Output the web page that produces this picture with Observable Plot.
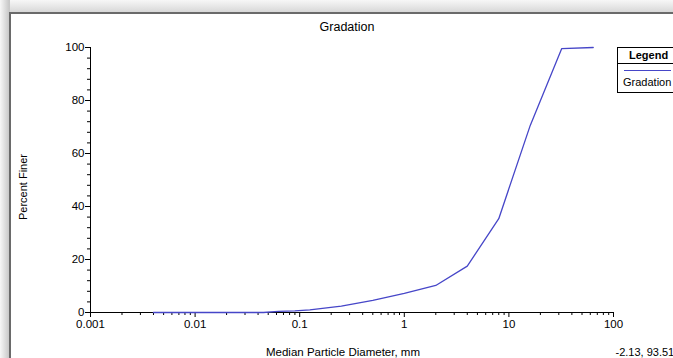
<!DOCTYPE html>
<html>
<head>
<meta charset="utf-8">
<script src="https://cdn.jsdelivr.net/npm/d3@7"></script>
<script src="https://cdn.jsdelivr.net/npm/@observablehq/plot@0.6"></script>
<style>
  html, body { margin: 0; padding: 0; background: #fff; overflow: hidden; }
  #wrap { position: relative; width: 673px; height: 358px; overflow: hidden; background: #fff; }
  #topshade { position: absolute; left: 0; top: 0; width: 700px; height: 12px;
    background: linear-gradient(to bottom, #f7f7f7 0px, #d8d8d8 12px); }
  #leftshade { position: absolute; left: 0; top: 0; width: 10px; height: 358px;
    background: linear-gradient(to right, #f7f7f7 0px, #c8c8c8 9px); }
  #panel { position: absolute; left: 9px; top: 12px; width: 700px; height: 400px;
    background: #fff; border-top: 2px solid #6a6a6a; border-left: 2px solid #6a6a6a; }
  #chart { position: absolute; left: 0; top: 0; }
  #legend { position: absolute; left: 617px; top: 47px; width: 70px; height: 44px;
    border: 1px solid #000; background: #fff; font-family: "Liberation Sans", Arial, sans-serif; font-size: 11px; }
  #legend .hd { height: 15px; border-bottom: 1px solid #000; font-weight: bold; line-height: 15px; padding-left: 11px; }
  #legend .sw { position: absolute; left: 6px; top: 22px; width: 47px; height: 0; border-top: 1.5px solid #4646c8; }
  #legend .lb { position: absolute; left: 5px; top: 28px; }
</style>
</head>
<body>
<div id="wrap">
  <div id="topshade"></div>
  <div id="leftshade"></div>
  <div id="panel"></div>
  <div id="chart"></div>
  <div id="legend"><div class="hd">Legend</div><div class="sw"></div><div class="lb">Gradation</div></div>
</div>
<script>
const titleText = "Gradation";
const xLabel = "Median Particle Diameter, mm";
const yLabel = "Percent Finer";
const cursorText = "-2.13, 93.51";
const diameters = [0.004, 0.045, 0.0625, 0.09, 0.125, 0.25, 0.5, 1, 2, 4, 8, 16, 32, 64];
const percentFiner = [0, 0, 0.4, 0.6, 1.0, 2.4, 4.6, 7.2, 10.2, 17.5, 35.4, 70.6, 99.6, 100];
const xTicks = [0.001, 0.01, 0.1, 1, 10, 100];
const xTickLabels = ["0.001", "0.01", "0.1", "1", "10", "100"];
const yTicks = [0, 20, 40, 60, 80, 100];
const yMinorStep = 4;

const data = diameters.map((d, i) => ({d, p: percentFiner[i]}));
const xMinor = [];
xTicks.slice(0, -1).forEach(t => { for (let k = 2; k <= 9; k++) xMinor.push(t * k); });
const yMinor = d3.range(0, 101, yMinorStep).filter(v => !yTicks.includes(v));

const narrow = "'Liberation Sans Narrow', 'Arial Narrow', 'Liberation Sans', Arial, sans-serif";

const chart = Plot.plot({
  width: 673, height: 358,
  marginLeft: 90, marginRight: 60, marginTop: 47, marginBottom: 46,
  style: {background: "transparent", fontFamily: "'Liberation Sans', Arial, sans-serif", fontSize: "12px", color: "#000"},
  x: {type: "log", domain: [0.001, 100]},
  y: {domain: [0, 100]},
  marks: [
    Plot.axisY(yMinor, {tickSize: 3, tickFormat: () => "", label: null}),
    Plot.axisY(yTicks, {tickSize: 5, tickPadding: 1, label: null, fontSize: 11.5}),
    Plot.axisX(xMinor, {tickSize: 3, tickFormat: () => "", label: null}),
    Plot.axisX(xTicks, {tickSize: 5, tickPadding: 2, label: null, fontSize: 11.5,
      tickFormat: d => xTickLabels[xTicks.indexOf(d)]}),
    Plot.ruleX([0.001], {stroke: "#000"}),
    Plot.ruleY([0], {stroke: "#000"}),
    Plot.line(data, {x: "d", y: "p", stroke: "#4646c8", strokeWidth: 1.3}),
    Plot.text([titleText], {text: d => d, frameAnchor: "top", dx: -5, dy: -25, fontSize: 12.5, fontFamily: narrow}),
    Plot.text([xLabel], {text: d => d, frameAnchor: "bottom", dx: -9, dy: 43, fontSize: 11.5, fontFamily: narrow}),
    Plot.text([yLabel], {text: d => d, frameAnchor: "left", textAnchor: "middle", dx: -67, dy: 7, rotate: -90, fontSize: 11, fontFamily: "'Liberation Sans', Arial, sans-serif"}),
    Plot.text([cursorText], {text: d => d, frameAnchor: "bottom-right", textAnchor: "start", dx: 2, dy: 43, fontSize: 11, fontFamily: narrow})
  ]
});
document.getElementById("chart").appendChild(chart);
</script>
</body>
</html>
